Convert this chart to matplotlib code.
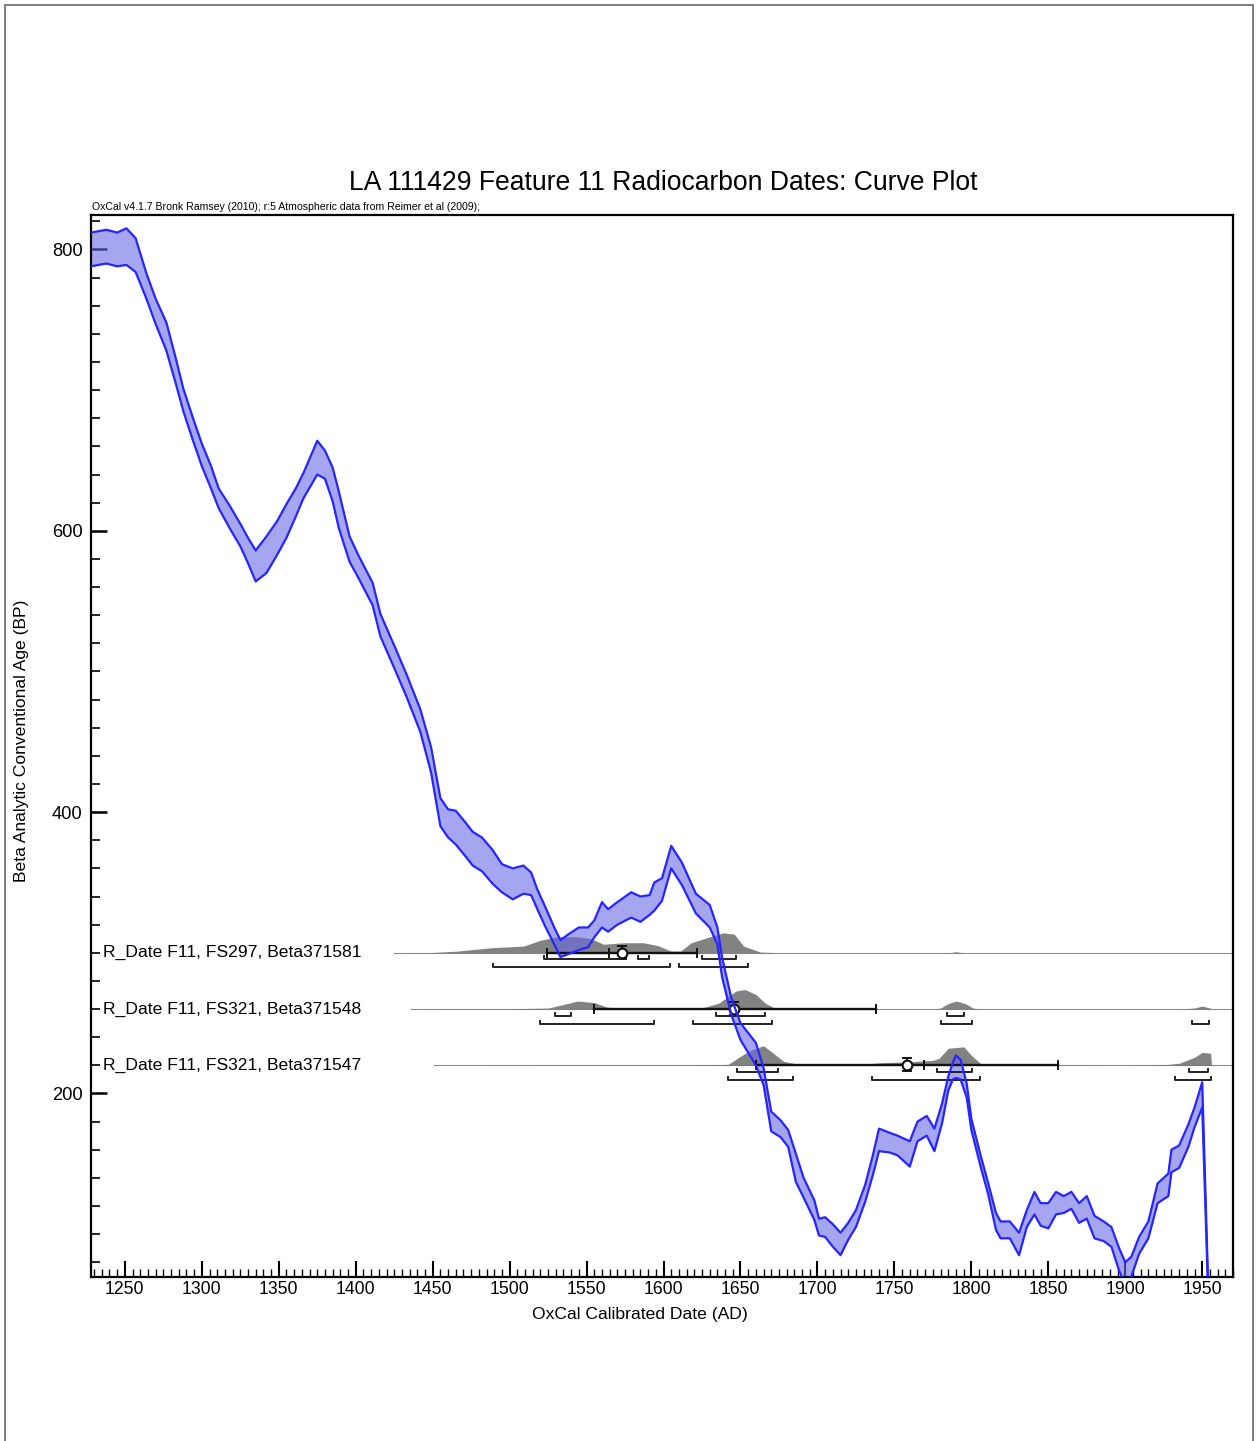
import matplotlib
matplotlib.use('Agg')
import matplotlib.pyplot as plt
from matplotlib.patches import Rectangle
from matplotlib.ticker import MultipleLocator, FixedLocator
import numpy as np

plt.rcParams['font.family'] = ['Liberation Sans', 'DejaVu Sans']

# calibration curve (IntCal09 atmospheric): year AD, BP, 1 sigma
cal_year = [1226, 1228, 1238, 1245, 1251, 1257, 1264, 1270, 1277, 1283, 1288, 1294, 1300,
            1306, 1311, 1318, 1325, 1330, 1335, 1342, 1349, 1355, 1361, 1366, 1375,
            1380, 1385, 1389, 1396, 1402, 1411, 1416, 1426, 1433, 1442, 1449, 1455,
            1460, 1465, 1471, 1476, 1482, 1489, 1495, 1502, 1509, 1514, 1518, 1523,
            1529, 1533, 1538, 1545, 1551, 1555, 1560, 1564, 1570, 1579, 1585, 1591,
            1594, 1599, 1605, 1612, 1621, 1630, 1635, 1638, 1644, 1650, 1660, 1665,
            1670, 1676, 1681, 1686, 1691, 1698, 1701, 1705, 1710, 1715, 1720, 1725,
            1731, 1736, 1740, 1747, 1752, 1760, 1765, 1771, 1776, 1781, 1785, 1788,
            1790, 1793, 1797, 1800, 1806, 1811, 1816, 1819, 1825, 1831, 1836, 1841,
            1845, 1850, 1855, 1860, 1865, 1870, 1875, 1880, 1886, 1891, 1896, 1900,
            1904, 1909, 1915, 1921, 1928, 1930, 1935, 1941, 1945, 1950, 1955]
cal_bp = [800, 800, 802, 800, 802, 796, 774, 756, 738, 714, 693, 673, 654,
          638, 623, 610, 597, 586, 575, 583, 595, 607, 620, 632, 652,
          647, 633, 615, 587, 574, 555, 533, 508, 490, 465, 437, 400,
          392, 389, 381, 374, 370, 361, 353, 349, 352, 349, 338, 326,
          312, 303, 306, 310, 311, 317, 327, 323, 328, 334, 331, 334,
          340, 345, 368, 356, 335, 326, 312, 290, 262, 244, 228, 212,
          180, 175, 168, 147, 133, 117, 105, 105, 99, 93, 102, 111,
          129, 149, 167, 165, 163, 157, 173, 177, 167, 186, 207, 216,
          219, 217, 202, 178, 152, 132, 109, 103, 103, 93, 111, 122,
          114, 113, 122, 121, 124, 115, 119, 105, 102, 98, 82, 72,
          77, 92, 103, 129, 135, 152, 155, 170, 183, 199, 20]
cal_sig = [12, 12, 12, 12, 13, 12, 9, 9, 10, 9, 8, 8, 8,
           8, 7, 8, 8, 9, 11, 13, 12, 12, 10, 9, 12,
           10, 12, 13, 9, 8, 8, 8, 8, 8, 8, 9, 10,
           10, 12, 12, 12, 12, 12, 10, 11, 10, 8, 7, 7,
           6, 6, 7, 8, 7, 6, 9, 8, 8, 9, 9, 7,
           10, 8, 8, 8, 7, 8, 6, 7, 6, 6, 8, 6,
           7, 6, 6, 10, 7, 7, 6, 7, 8, 8, 6, 6,
           6, 7, 8, 7, 7, 9, 7, 7, 8, 7, 5, 6,
           8, 7, 5, 4, 4, 4, 6, 6, 6, 8, 6, 8,
           8, 9, 8, 6, 6, 7, 8, 8, 7, 7, 8, 8,
           7, 6, 6, 7, 8, 8, 8, 8, 7, 9, 1]

# radiocarbon dates
date_names = ['R_Date F11, FS297, Beta371581',
              'R_Date F11, FS321, Beta371548',
              'R_Date F11, FS321, Beta371547']
date_bp = [300, 260, 220]
line_start = [1425, 1436, 1451]

# calibrated probability (relative heights)
prob_year = [
    [1425, 1450, 1466, 1488, 1509, 1520, 1531, 1544, 1553, 1561, 1574, 1587, 1596,
     1605, 1611, 1618, 1629, 1639, 1646, 1652, 1663, 1675, 1785, 1790, 1795, 1970],
    [1436, 1500, 1525, 1535, 1544, 1555, 1563, 1570, 1600, 1625, 1636, 1647, 1653,
     1660, 1666, 1672, 1690, 1775, 1780, 1785, 1790, 1796, 1801, 1806, 1935, 1945,
     1950, 1955, 1957, 1970],
    [1451, 1600, 1635, 1642, 1652, 1658, 1665, 1671, 1678, 1689, 1700, 1730, 1740,
     1760, 1770, 1775, 1779, 1785, 1795, 1800, 1806, 1815, 1900, 1925, 1935, 1945,
     1950, 1955.5, 1956, 1970],
]
prob_val = [
    [0, 0.3, 1.7, 5, 6.7, 12.5, 16, 16, 14, 8.5, 10, 10, 7.3,
     1.7, 1.7, 10, 15.5, 20, 18.5, 6.7, 0.7, 0, 0, 1, 0, 0],
    [0, 0.3, 1, 4.5, 8, 6.5, 2, 0.5, 0.3, 1, 6, 18, 19.5,
     14.5, 6, 1, 0, 0, 1, 5.5, 8, 5.5, 1, 0, 0, 1,
     3, 1, 0, 0],
    [0, 0.2, 0.5, 1, 11, 16, 19.5, 12.5, 4, 0.5, 0.3, 1, 2.5,
     3.5, 4.5, 5, 7, 17, 18.5, 10, 1.7, 0.3, 0, 0.5, 2, 8,
     13, 12, 0, 0],
]

# black range bars, inner ticks and circle markers
bar_ranges = [(1524.3, 1621.8), (1554.6, 1738.1), (1660.1, 1856.2)]
bar_ticks = [[1564.6], [], [1769.5]]
circle_year = [1572.8, 1646.0, 1758.3]

# 68.2% and 95.4% ranges
range68 = [[(1522.1, 1575.6), (1583.6, 1590.8), (1624.8, 1647.1)],
           [(1529.7, 1539.9), (1634.1, 1665.9), (1784.2, 1795.5)],
           [(1647.5, 1674.2), (1777.8, 1800.3), (1941.7, 1953.6)]]
range95 = [[(1489.4, 1604.2), (1610.3, 1655.1)],
           [(1519.7, 1594.0), (1618.9, 1670.5), (1780.0, 1800.5), (1943.5, 1954.7)],
           [(1641.7, 1684.0), (1735.3, 1805.9), (1932.4, 1955.8)]]

W, H = 1256, 1441
fig = plt.figure(figsize=(W / 100, H / 100), dpi=100)
ax = fig.add_axes([91 / W, 1 - 1277 / H, (1233 - 91) / W, (1277 - 215) / H])
ax.set_xlim(1228, 1970)
ax.set_ylim(69.5, 824.5)

# calibration curve
yr = np.array(cal_year, dtype=float)
bp = np.array(cal_bp, dtype=float)
sg = np.array(cal_sig, dtype=float)
ax.fill_between(yr, bp - sg, bp + sg, color='#6969e6', alpha=0.6, lw=0, zorder=2)
ax.plot(yr, bp + sg, color='#2525ff', lw=1.6, zorder=4)
ax.plot(yr, bp - sg, color='#2525ff', lw=1.6, zorder=4)

px = 1 / 1.4067  # one pixel in BP units
for i, row in enumerate(date_bp):
    ax.plot([line_start[i], 1970], [row, row], color='#8c8c8c', lw=0.8, zorder=1)
    py = np.array(prob_year[i], dtype=float)
    pv = np.array(prob_val[i], dtype=float) * px
    ax.fill_between(py, row, row + pv, color='#747474', alpha=0.9, lw=0, zorder=1)

    a, b = bar_ranges[i]
    ax.plot([a, b], [row, row], color='#111111', lw=1.7, zorder=3)
    for t in [a, b] + bar_ticks[i]:
        ax.plot([t, t], [row - 4 * px, row + 4 * px], color='#111111', lw=1.4, zorder=3)
    c = circle_year[i]
    ax.plot([c, c], [row - 6 * px, row + 7 * px], color='#111111', lw=1.4, zorder=3)
    for yy in (row - 6 * px, row + 7 * px):
        ax.plot([c - 2.6, c + 2.6], [yy, yy], color='#111111', lw=1.4, zorder=3)
    ax.plot([c], [row], marker='o', ms=7, mfc='white', mec='#111111', mew=1.5, zorder=3.5)

    for rngs, off in ((range68[i], 6.5), (range95[i], 14.5)):
        yb = row - off * px
        for a, b in rngs:
            ax.plot([a, a, b, b], [yb + 3 * px, yb, yb, yb + 3 * px],
                    color='#222222', lw=1.4, zorder=3)

    ax.text(0.0105, row, date_names[i], transform=ax.get_yaxis_transform(),
            va='center', ha='left', fontsize=12.6, zorder=5)

# axes styling
for s in ax.spines.values():
    s.set_linewidth(1.6)
ax.xaxis.set_major_locator(MultipleLocator(50))
ax.xaxis.set_minor_locator(MultipleLocator(5))
ax.yaxis.set_major_locator(FixedLocator([200, 400, 600, 800]))
ax.yaxis.set_minor_locator(MultipleLocator(20))
ax.tick_params(axis='both', which='both', direction='in', top=False, right=False)
ax.tick_params(axis='x', which='major', length=11.5, width=1.5, labelsize=12.7, pad=3)
ax.tick_params(axis='x', which='minor', length=5.5, width=1.0)
ax.tick_params(axis='y', which='major', length=11.5, width=1.8, labelsize=13.2, pad=6)
ax.tick_params(axis='y', which='minor', length=6.5, width=1.2)

ax.text(0.001, 1.003, 'OxCal v4.1.7 Bronk Ramsey (2010); r:5 Atmospheric data from Reimer et al (2009);',
        transform=ax.transAxes, fontsize=7.6, va='bottom', ha='left')
fig.text(663 / W, 1 - 183 / H, 'LA 111429 Feature 11 Radiocarbon Dates: Curve Plot',
         ha='center', va='center', fontsize=19.1)
fig.text(22 / W, 1 - 741 / H, 'Beta Analytic Conventional Age (BP)', rotation=90,
         ha='center', va='center', fontsize=12.6)
fig.text(639.5 / W, 1 - 1314 / H, 'OxCal Calibrated Date (AD)',
         ha='center', va='center', fontsize=12.6)

# page frame
fig.add_artist(Rectangle((5 / W, -0.01), (1253 - 5) / W, (H - 5) / H + 0.01,
                         transform=fig.transFigure, fill=False, ec='#666666', lw=1.2))

fig.savefig('out.png', dpi=100)
